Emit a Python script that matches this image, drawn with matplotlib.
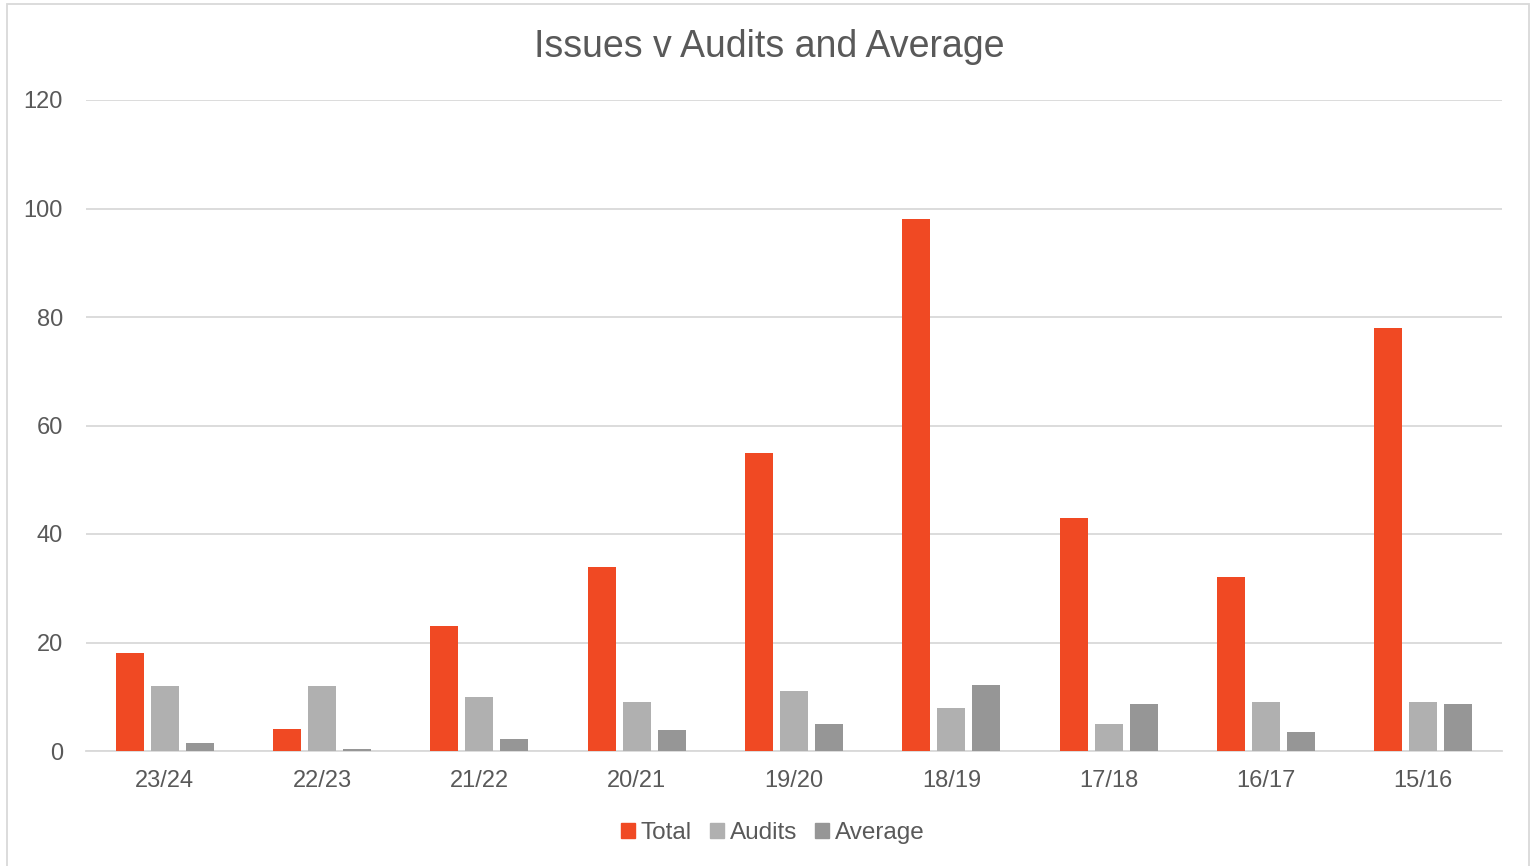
import matplotlib
matplotlib.use("Agg")
import matplotlib.pyplot as plt
from matplotlib.patches import Rectangle, Patch
import numpy as np

plt.rcParams['font.family'] = ['Liberation Sans', 'DejaVu Sans']

years = ["23/24", "22/23", "21/22", "20/21", "19/20", "18/19", "17/18", "16/17", "15/16"]
total = [18, 4, 23, 34, 55, 98, 43, 32, 78]
audits = [12, 12, 10, 9, 11, 8, 5, 9, 9]
average = [1.5, 0.33, 2.3, 3.78, 5.0, 12.25, 8.6, 3.56, 8.67]

red = "#F04923"
light = "#B0B0B0"
dark = "#969696"
txt = "#595959"
grid = "#D9D9D9"

W, H = 1531, 866
fig = plt.figure(figsize=(W / 100, H / 100), dpi=100)
ax = fig.add_axes([86 / W, 1 - 751 / H, (1502 - 86) / W, (751 - 100) / H])

x = np.arange(len(years))
bw = 0.178
step = 0.223
ax.bar(x - step, total, bw, color=red, zorder=3)
ax.bar(x, audits, bw, color=light, zorder=3)
ax.bar(x + step, average, bw, color=dark, zorder=3)

ax.set_xlim(-0.5, len(years) - 0.5)
ax.set_ylim(0, 120)
ax.set_yticks(range(0, 121, 20))
ax.set_xticks(x)
ax.set_xticklabels(years)
ax.yaxis.grid(True, color=grid, linewidth=1.3, zorder=0)
for s in ["top", "right", "left"]:
    ax.spines[s].set_visible(False)
ax.spines["bottom"].set_color(grid)
ax.spines["bottom"].set_linewidth(1.3)
ax.tick_params(axis="both", length=0, labelsize=17, labelcolor=txt)
ax.tick_params(axis="y", pad=16.5)
ax.tick_params(axis="x", pad=14)

fig.text(769 / W, 1 - 47 / H, "Issues v Audits and Average", ha="center", va="center",
         fontsize=27, color=txt)

handles = [Patch(color=red, label="Total"), Patch(color=light, label="Audits"),
           Patch(color=dark, label="Average")]
fig.legend(handles=handles, loc="center", bbox_to_anchor=(773 / W, 1 - 833 / H), ncol=3,
           frameon=False, fontsize=17.5, labelcolor=txt, handlelength=0.55,
           handleheight=0.55, handletextpad=0.25, columnspacing=0.75)

fig.patches.append(Rectangle((7 / W, -0.01), (1529 - 7) / W, 1 - 4 / H + 0.01,
                             transform=fig.transFigure, fill=False,
                             edgecolor=grid, linewidth=1.3))

fig.savefig("out.png", dpi=100)
